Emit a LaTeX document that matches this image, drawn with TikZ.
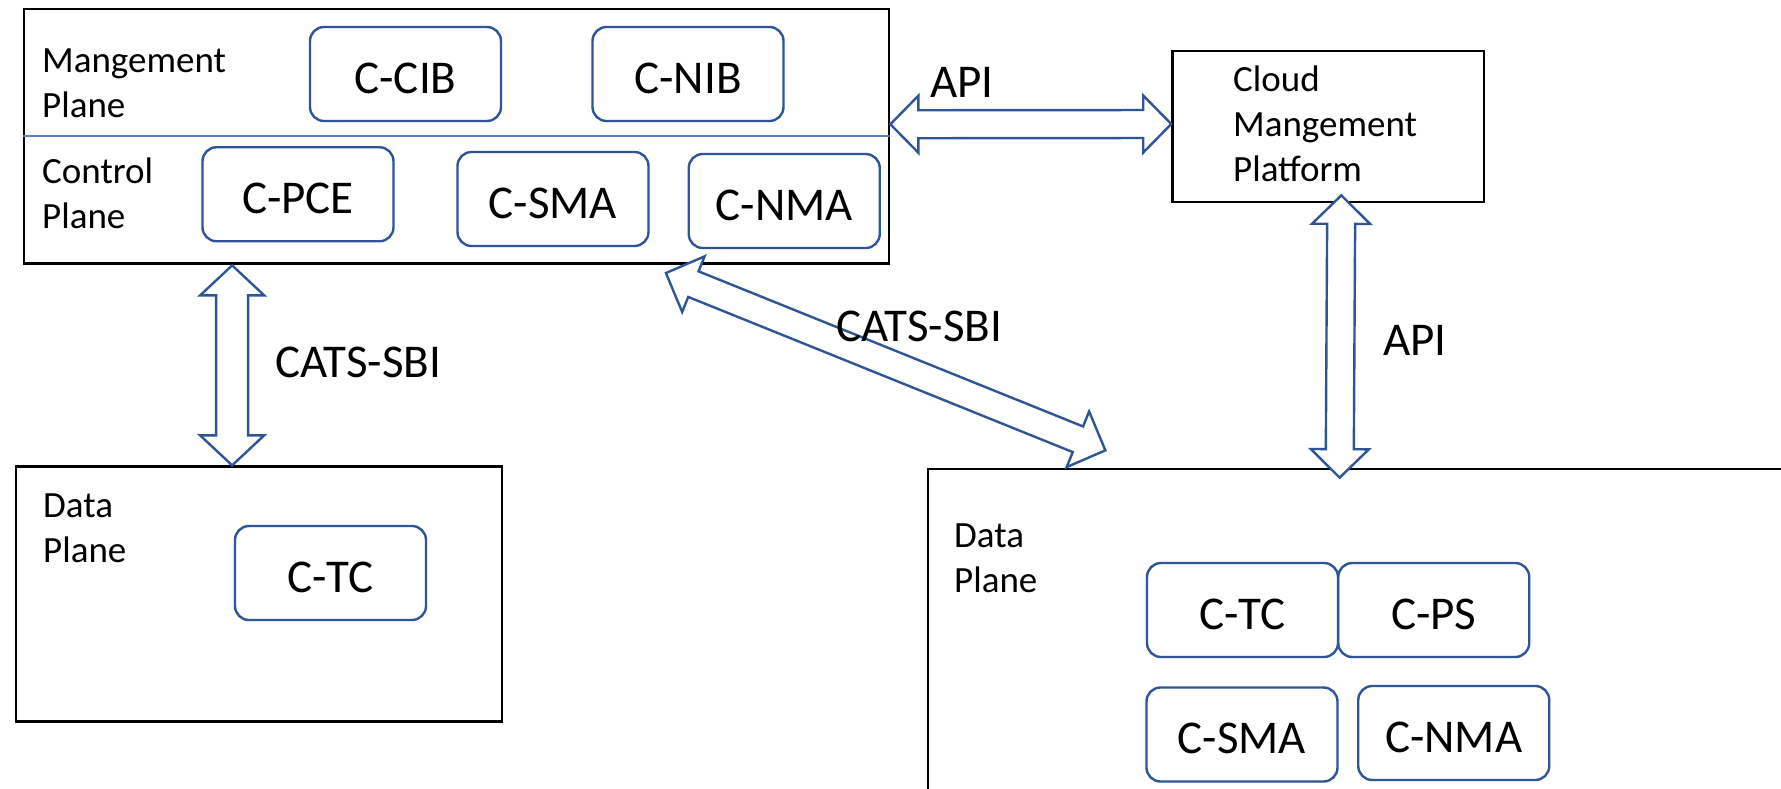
\documentclass[tikz,border=0pt]{standalone}
\usepackage{fontspec}
\setmainfont{Carlito}
\usetikzlibrary{calc}

\definecolor{boxblue}{RGB}{47,85,151}
\definecolor{divblue}{RGB}{91,127,196}

\tikzset{
  plane/.style={draw=black, line width=2.7pt, inner sep=0pt},
  comp/.style={draw=boxblue, line width=2.4pt, rounded corners=14pt,
    minimum width=191pt, minimum height=94pt, inner sep=0pt,
    font=\fontsize{47}{56}\selectfont, text height=38pt, text depth=0pt},
  % anchored at the baseline of the last line
  planelbl/.style={anchor=base west, align=left, inner sep=0pt,
    font=\fontsize{37}{45}\selectfont},
  linklbl/.style={anchor=base west, inner sep=0pt,
    font=\fontsize{47}{56}\selectfont},
  blockarrow/.style={draw=boxblue, fill=white, line width=2.4pt, line join=miter},
  divider/.style={draw=divblue, line width=1.3pt},
}

% hollow double-headed block arrow between two named points
% #1,#2 tips; #3 shaft half width; #4 head half width; #5 head length
\newcommand{\fatarrow}[5]{%
  \path[blockarrow] (#1)
    -- ($(#1)!#5!(#2)!#4!90:(#2)$) -- ($(#1)!#5!(#2)!#3!90:(#2)$)
    -- ($(#2)!#5!(#1)!#3!-90:(#1)$) -- ($(#2)!#5!(#1)!#4!-90:(#1)$)
    -- (#2)
    -- ($(#2)!#5!(#1)!#4!90:(#1)$) -- ($(#2)!#5!(#1)!#3!90:(#1)$)
    -- ($(#1)!#5!(#2)!#3!-90:(#2)$) -- ($(#1)!#5!(#2)!#4!-90:(#2)$)
    -- cycle;}

\begin{document}
\begin{tikzpicture}[x=1pt, y=-1pt]
  \fill[white] (0,0) rectangle (1781,788);
  \clip (0,0) rectangle (1781,788);

  % plane containers
  \node[plane, minimum width=865pt, minimum height=254.5pt] (mgmt) at (456.5,136.25) {};
  \node[plane, minimum width=311.4pt, minimum height=151pt] (cloud) at (1328.3,126.5) {};
  \node[plane, minimum width=486pt, minimum height=255pt] (dpL) at (259,594.2) {};
  \node[plane, minimum width=922pt, minimum height=381pt] (dpR) at (1389,659.5) {};

  % split between management and control plane
  \draw[divider] (mgmt.west |- 0,136) -- (mgmt.east |- 0,136);

  % components
  \node[comp] (ccib)  at (405.5,74)    {C-CIB};
  \node[comp] (cnib)  at (688,74)      {C-NIB};
  \node[comp] (cpce)  at (298,194.25)  {C-PCE};
  \node[comp] (csmaA) at (553,199)     {C-SMA};
  \node[comp] (cnmaA) at (784.25,201)  {C-NMA};
  \node[comp] (ctcA)  at (330.5,573)   {C-TC};
  \node[comp] (ctcB)  at (1242.5,610)  {C-TC};
  \node[comp] (cps)   at (1433.75,610) {C-PS};
  \node[comp] (csmaB) at (1242,734.5)  {C-SMA};
  \node[comp] (cnmaB) at (1453.75,733) {C-NMA};

  % arrow end points on the plane boxes
  \coordinate (apiL)  at ($(mgmt.east)+(0,-12)$);
  \coordinate (apiR)  at ($(cloud.west)+(0,-2.5)$);
  \coordinate (apiT)  at ($(cloud.south)+(13,-8)$);
  \coordinate (apiB)  at ($(dpR.north west)+(413,10)$);
  \coordinate (sbiT)  at ($(mgmt.south west)+(209.5,0.5)$);
  \coordinate (sbiB)  at ($(dpL.north west)+(217.5,0)$);
  \coordinate (diagT) at ($(mgmt.south west)+(643.3,8.2)$);
  \coordinate (diagB) at ($(dpR.north west)+(178.7,-17.3)$);

  % interfaces
  \fatarrow{apiL}{apiR}{14pt}{28.5pt}{28pt}
  \fatarrow{apiT}{apiB}{14pt}{29pt}{28.5pt}
  \fatarrow{sbiT}{sbiB}{16pt}{32pt}{30pt}
  \fatarrow{diagT}{diagB}{13.8pt}{30pt}{29.6pt}

  % plane titles
  \node[planelbl] (tMgmt)  at (42,117)   {Mangement\\Plane};
  \node[planelbl] (tCtrl)  at (42,228)   {Control\\Plane};
  \node[planelbl] (tCloud) at (1233,181) {Cloud\\Mangement\\Platform};
  \node[planelbl] (tDataL) at (43,562)   {Data\\Plane};
  \node[planelbl] (tDataR) at (954,592)  {Data\\Plane};

  % interface names
  \node[linklbl] (lApiH) at (930,97)   {API};
  \node[linklbl] (lApiV) at (1383,355) {API};
  \node[linklbl] (lSbiV) at (275,377)  {CATS-SBI};
  \node[linklbl] (lSbiD) at (836,341)  {CATS-SBI};
\end{tikzpicture}
\end{document}
